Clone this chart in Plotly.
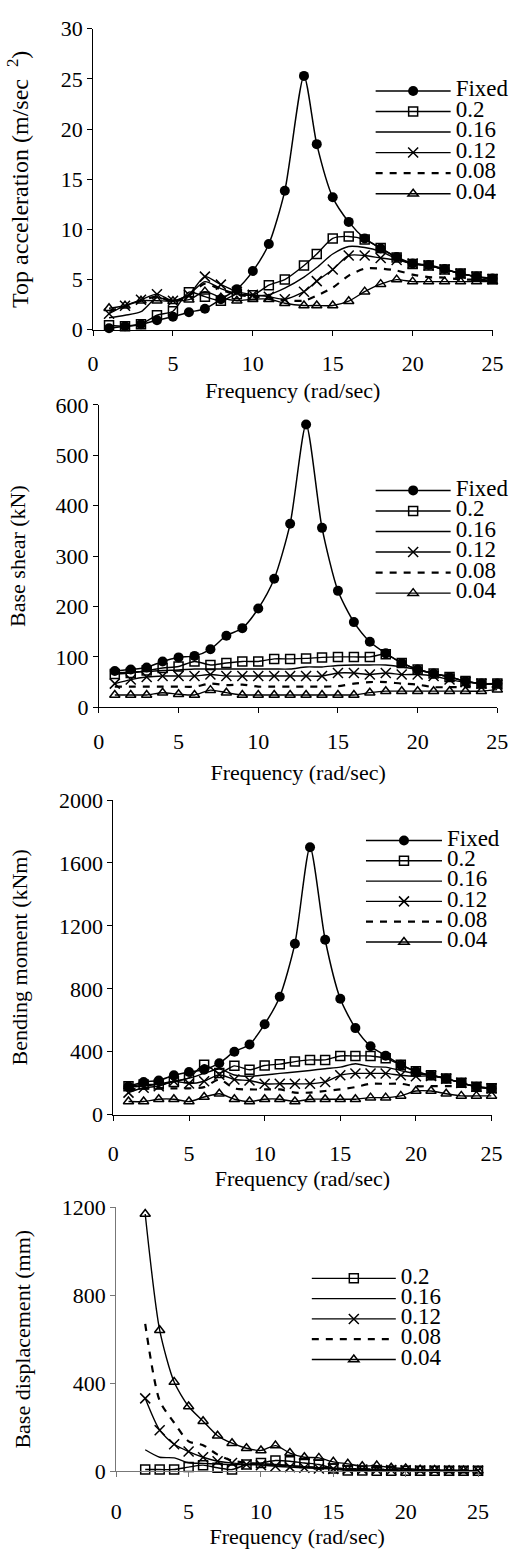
import plotly.graph_objects as go

# ---------------- data ----------------
series_names = ["Fixed", "0.2", "0.16", "0.12", "0.08", "0.04"]

freq = list(range(1, 26))
freq_acc = list(range(1, 13)) + [13.2] + list(range(14, 26))
freq_disp = list(range(2, 26))

acc_fixed = [0.15, 0.35, 0.55, 0.95, 1.3, 1.75, 2.1, 3.05, 4.05, 5.85, 8.55, 13.85, 25.3, 18.5, 13.2, 10.75, 9.1, 8.1, 7.25, 6.6, 6.45, 6.05, 5.6, 5.3, 5.1]
acc_020 = [0.45, 0.35, 0.55, 1.45, 1.85, 3.75, 3.3, 2.9, 3.55, 3.45, 4.45, 5.0, 6.4, 7.55, 9.1, 9.3, 9.0, 8.15, 7.2, 6.55, 6.4, 6.0, 5.6, 5.3, 5.05]
acc_016 = [1.2, 1.45, 1.8, 3.2, 2.9, 3.5, 4.8, 4.1, 3.6, 3.4, 3.5, 4.15, 5.25, 6.2, 7.55, 8.3, 8.2, 7.8, 7.1, 6.6, 6.4, 6.0, 5.6, 5.3, 5.05]
acc_012 = [1.6, 2.4, 3.0, 3.55, 2.9, 3.5, 5.3, 4.5, 3.8, 3.5, 3.3, 3.05, 3.8, 4.85, 6.0, 7.4, 7.4, 7.15, 6.95, 6.6, 6.4, 6.0, 5.6, 5.3, 5.05]
acc_008 = [1.9, 2.3, 2.9, 3.3, 2.8, 3.4, 4.6, 4.0, 3.5, 3.3, 3.2, 2.95, 2.9, 3.4, 4.2, 5.4, 6.1, 6.1, 5.9, 5.5, 5.25, 5.2, 5.0, 5.0, 4.9]
acc_004 = [2.15, 2.4, 2.9, 2.9, 2.85, 3.0, 3.8, 3.2, 2.9, 3.05, 3.05, 2.65, 2.42, 2.42, 2.42, 2.85, 3.8, 4.55, 5.0, 4.8, 4.8, 4.8, 4.8, 4.8, 4.8]

sh_fixed = [72, 75, 79, 91, 99, 102, 115, 142, 157, 196, 255, 364, 561, 356, 231, 169, 130, 107, 88, 75, 67, 60, 52, 47, 47]
sh_020 = [66, 68, 73, 78, 81, 91, 84, 88, 91, 91, 96, 96, 97, 99, 100, 100, 100, 105, 88, 75, 67, 60, 52, 47, 47]
sh_016 = [68, 70, 71, 73, 74, 76, 76, 76, 76, 76, 76, 76, 80, 80, 83, 84, 84, 84, 80, 75, 67, 60, 52, 47, 45]
sh_012 = [47, 55, 60, 62, 62, 62, 65, 62, 62, 62, 62, 62, 62, 62, 68, 68, 65, 68, 65, 65, 62, 55, 50, 47, 45]
sh_008 = [41, 41, 41, 41, 41, 41, 47, 44, 45, 41, 41, 41, 41, 41, 42, 47, 50, 50, 47, 45, 40, 40, 40, 40, 40]
sh_004 = [24.5, 24.5, 24.5, 29, 26, 24.5, 34, 29, 24.5, 24.5, 24.5, 24.5, 24.5, 24.5, 24.5, 24.5, 29, 32, 32, 32, 32, 32, 32, 32, 35]

bm_fixed = [181, 208, 217, 250, 271, 285, 327, 400, 446, 575, 750, 1087, 1700, 1112, 737, 550, 435, 375, 317, 275, 250, 229, 202, 177, 167]
bm_020 = [181, 192, 192, 208, 233, 317, 265, 310, 285, 312, 321, 337, 348, 348, 373, 373, 373, 358, 317, 275, 250, 229, 202, 177, 167]
bm_016 = [175, 182, 195, 212, 232, 262, 290, 252, 244, 252, 262, 271, 281, 292, 302, 323, 305, 302, 280, 260, 250, 229, 202, 177, 167]
bm_012 = [140, 171, 181, 212, 198, 212, 254, 223, 217, 196, 196, 196, 196, 208, 250, 262, 262, 262, 250, 244, 246, 229, 202, 177, 167]
bm_008 = [160, 165, 168, 167, 167, 175, 223, 167, 160, 160, 160, 140, 140, 150, 160, 175, 196, 196, 196, 181, 181, 181, 180, 175, 165]
bm_004 = [83, 83, 98, 98, 83, 112, 133, 98, 83, 98, 98, 83, 98, 98, 98, 98, 108, 108, 119, 150, 150, 133, 119, 119, 119]

bd_020 = [7, 7, 7, 18, 27, 15, 7, 30, 37, 48, 45, 37, 30, 12, 3, 3, 2, 2, 2, 1, 1, 1, 1, 1]
bd_016 = [97, 63, 60, 38, 35, 32, 30, 30, 32, 30, 25, 20, 15, 12, 10, 8, 7, 6, 5, 4, 3, 3, 2, 2]
bd_012 = [331, 186, 122, 89, 63, 45, 37, 30, 27, 22, 18, 15, 12, 10, 8, 7, 6, 5, 4, 3, 3, 2, 2, 2]
bd_008 = [670, 320, 220, 135, 118, 75, 48, 38, 32, 28, 22, 18, 15, 12, 10, 8, 7, 6, 5, 4, 3, 3, 2, 2]
bd_004 = [1170, 641, 405, 294, 227, 161, 127, 104, 94, 116, 82, 63, 60, 42, 33, 22, 25, 15, 12, 6, 5, 4, 3, 2]

y_titles = ["Top acceleration (m/sec&nbsp;&nbsp;<sup>2</sup>)", "Base shear (kN)",
            "Bending moment (kNm)", "Base displacement (mm)"]
x_title = "Frequency (rad/sec)"

FONT = "Liberation Serif, Times New Roman, serif"
W, H = 519, 1550

styles = {
    "Fixed": dict(mode="lines+markers", marker=dict(symbol="circle", size=10, color="black"),
                  line=dict(color="black", width=1.5)),
    "0.2": dict(mode="lines+markers", marker=dict(symbol="square-open", size=9, color="black",
                                                  line=dict(width=1.5, color="black")),
                line=dict(color="black", width=1.4)),
    "0.16": dict(mode="lines", line=dict(color="black", width=1.4)),
    "0.12": dict(mode="lines+markers", marker=dict(symbol="x-thin", size=10, color="black",
                                                   line=dict(width=1.5, color="black")),
                 line=dict(color="black", width=1.4)),
    "0.08": dict(mode="lines", line=dict(color="black", width=2.2, dash="7px,7px")),
    "0.04": dict(mode="lines+markers", marker=dict(symbol="triangle-up-open", size=9, color="black",
                                                   line=dict(width=1.5, color="black")),
                 line=dict(color="black", width=1.4)),
}

panels = [
    dict(x=[freq_acc] * 6, ys=[acc_fixed, acc_020, acc_016, acc_012, acc_008, acc_004],
         names=series_names, xdom=(90, 503), ydom=(17, 323), yr=[0, 30], dt=5,
         leg=(377, 64.7, 75, 13.5), axcol="black", ytfs=24, tls=9, xts=7, yts=25),
    dict(x=[freq] * 6, ys=[sh_fixed, sh_020, sh_016, sh_012, sh_008, sh_004],
         names=series_names, xdom=(96, 508), ydom=(399.3, 706.7), yr=[0, 600], dt=100,
         leg=(377, 470.7, 75, 13.5), axcol="black", ytfs=22, tls=9, xts=11, yts=23),
    dict(x=[freq] * 6, ys=[bm_fixed, bm_020, bm_016, bm_012, bm_008, bm_004],
         names=series_names, xdom=(111, 502), ydom=(801, 1120.7), yr=[0, 2000], dt=400,
         leg=(367, 826.7, 76, 13.3), axcol="black", ytfs=22, tls=14, xts=1, yts=25),
    dict(x=[freq_disp] * 5, ys=[bd_020, bd_016, bd_012, bd_008, bd_004],
         names=series_names[1:], xdom=(114, 488), ydom=(1215, 1483), yr=[0, 1200], dt=400,
         leg=(311, 1271.7, 84, 13.3), axcol="#777777", ytfs=22, tls=16, xts=0, yts=25),
]

fig = go.Figure()
layout = dict(width=W, height=H, margin=dict(l=0, r=0, t=0, b=0),
              paper_bgcolor="white", plot_bgcolor="white", showlegend=True,
              font=dict(family=FONT, color="black", size=22))
for i, p in enumerate(panels):
    k = "" if i == 0 else str(i + 1)
    legname = "legend" + k
    for xs, ys, nm in zip(p["x"], p["ys"], p["names"]):
        st = styles[nm]
        fig.add_trace(go.Scatter(
            x=xs, y=ys, name="<span style='font-size:23px'>" + nm + "</span>",
            mode=st["mode"], marker=st.get("marker"), line=dict(**st["line"], shape="spline", smoothing=0.7),
            xaxis="x" + k, yaxis="y" + k, legend=legname, cliponaxis=False, hoverinfo="skip"))
    x0, x1 = p["xdom"]
    yt, yb = p["ydom"]
    layout["xaxis" + k] = dict(
        domain=[x0 / W, x1 / W], range=[0, 25], anchor="y" + k, dtick=5, tick0=0,
        showline=True, linecolor=p["axcol"], linewidth=1, ticks="outside", ticklen=5,
        tickcolor=p["axcol"], showgrid=False, zeroline=False, ticklabelstandoff=p["tls"],
        tickfont=dict(family=FONT, size=22),
        title=dict(text=x_title, font=dict(family=FONT, size=22), standoff=p["xts"]))
    layout["yaxis" + k] = dict(
        domain=[1 - yb / H, 1 - yt / H], range=p["yr"], anchor="x" + k, dtick=p["dt"], tick0=0,
        showline=True, linecolor=p["axcol"], linewidth=1, ticks="outside", ticklen=5,
        tickcolor=p["axcol"], showgrid=False, zeroline=False,
        tickfont=dict(family=FONT, size=22),
        title=dict(text=y_titles[i], font=dict(family=FONT, size=p["ytfs"]), standoff=p["yts"]))
    lx, ly, iw, fs = p["leg"]
    layout[legname] = dict(x=lx / W, y=1 - ly / H, xanchor="left", yanchor="top",
                           bgcolor="rgba(0,0,0,0)", borderwidth=0, itemwidth=iw,
                           font=dict(family=FONT, size=fs), tracegroupgap=0,
                           itemclick=False, itemdoubleclick=False)

fig.update_layout(**layout)
fig.write_html("out.html")
